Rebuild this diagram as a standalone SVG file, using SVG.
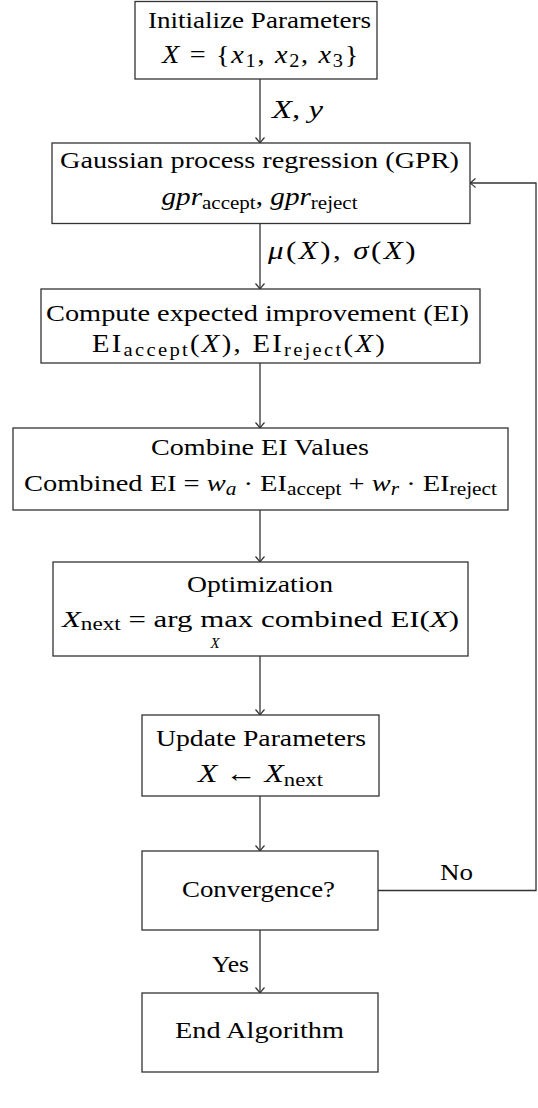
<svg xmlns="http://www.w3.org/2000/svg" width="538" height="1108" viewBox="0 0 538 1108">
<style>
.box{fill:#fff;stroke:#333;stroke-width:1.3}
.t{font-family:"Liberation Serif","Times New Roman",serif;font-size:24px;fill:#000;text-anchor:middle}
.m{font-size:25px}
.it{font-style:italic}
.sub{font-size:18px}
.edge{fill:none;stroke:#333;stroke-width:1.3}
</style>
<defs>
<marker id="arr" markerUnits="userSpaceOnUse" markerWidth="12" markerHeight="12" refX="0" refY="0" viewBox="-7 -6 8 12" orient="auto">
<path d="M-5.5,-4.5 Q-1.5,-1 0,0 Q-1.5,1 -5.5,4.5" fill="none" stroke="#333" stroke-width="1.2"/>
</marker>
</defs>
<g id="connectors">
<line class="edge" x1="260" y1="79" x2="260" y2="143" marker-end="url(#arr)"/>
<line class="edge" x1="260" y1="223.5" x2="260" y2="289" marker-end="url(#arr)"/>
<line class="edge" x1="260" y1="363" x2="260" y2="428" marker-end="url(#arr)"/>
<line class="edge" x1="260" y1="510" x2="260" y2="562" marker-end="url(#arr)"/>
<line class="edge" x1="260" y1="656" x2="260" y2="715" marker-end="url(#arr)"/>
<line class="edge" x1="260" y1="796" x2="260" y2="851" marker-end="url(#arr)"/>
<line class="edge" x1="260" y1="930" x2="260" y2="993" marker-end="url(#arr)"/>
<polyline class="edge" points="378,890.5 536,890.5 536,183 470,183" marker-end="url(#arr)"/>
<text class="t m it" x="297.5" y="118" textLength="51" lengthAdjust="spacingAndGlyphs">X,  y</text>
<text class="t m" x="343" y="259" textLength="150" lengthAdjust="spacingAndGlyphs" style="letter-spacing:2px"><tspan class="it">μ</tspan>(<tspan class="it">X</tspan>),  <tspan class="it">σ</tspan>(<tspan class="it">X</tspan>)</text>
<text class="t" x="456.5" y="880" textLength="33" lengthAdjust="spacingAndGlyphs">No</text>
<text class="t" x="230.5" y="972" textLength="37" lengthAdjust="spacingAndGlyphs">Yes</text>
</g>
<g id="n1">
<rect class="box" x="135" y="1.5" width="242" height="77.5"/>
<text class="t" x="259.5" y="28" textLength="223" lengthAdjust="spacingAndGlyphs">Initialize Parameters</text>
<text class="t m" x="261" y="63" textLength="198" lengthAdjust="spacingAndGlyphs" style="letter-spacing:1.5px"><tspan class="it">X</tspan> = {<tspan class="it">x</tspan><tspan class="sub" dy="4">1</tspan><tspan dy="-4">, </tspan><tspan class="it">x</tspan><tspan class="sub" dy="4">2</tspan><tspan dy="-4">, </tspan><tspan class="it">x</tspan><tspan class="sub" dy="4">3</tspan><tspan dy="-4">}</tspan></text>
</g>
<g id="n2">
<rect class="box" x="52" y="143" width="418" height="80.5"/>
<text class="t" x="259.5" y="168" textLength="399" lengthAdjust="spacingAndGlyphs">Gaussian process regression (GPR)</text>
<text class="t m" x="259.5" y="205" textLength="196" lengthAdjust="spacingAndGlyphs"><tspan class="it">gpr</tspan><tspan class="sub" dy="4">accept</tspan><tspan dy="-4">,  </tspan><tspan class="it">gpr</tspan><tspan class="sub" dy="4">reject</tspan></text>
</g>
<g id="n3">
<rect class="box" x="41" y="289" width="439" height="74"/>
<text class="t" x="257.5" y="321" textLength="423" lengthAdjust="spacingAndGlyphs">Compute expected improvement (EI)</text>
<text class="t m" x="239.5" y="352" textLength="295" lengthAdjust="spacingAndGlyphs" style="letter-spacing:2px">EI<tspan class="sub" dy="4">accept</tspan><tspan dy="-4">(</tspan><tspan class="it">X</tspan>), EI<tspan class="sub" dy="4">reject</tspan><tspan dy="-4">(</tspan><tspan class="it">X</tspan>)</text>
</g>
<g id="n4">
<rect class="box" x="13" y="428" width="495" height="82"/>
<text class="t" x="260" y="455" textLength="218" lengthAdjust="spacingAndGlyphs">Combine EI Values</text>
<text class="t" x="260.5" y="491" textLength="473" lengthAdjust="spacingAndGlyphs">Combined EI = <tspan class="it">w</tspan><tspan class="sub it" dy="4">a</tspan><tspan dy="-4"> · EI</tspan><tspan class="sub" dy="4">accept</tspan><tspan dy="-4"> + </tspan><tspan class="it">w</tspan><tspan class="sub it" dy="4">r</tspan><tspan dy="-4"> · EI</tspan><tspan class="sub" dy="4">reject</tspan></text>
</g>
<g id="n5">
<rect class="box" x="53" y="562" width="415" height="94"/>
<text class="t" x="260" y="592" textLength="146" lengthAdjust="spacingAndGlyphs">Optimization</text>
<text class="t" x="260.5" y="627" textLength="397" lengthAdjust="spacingAndGlyphs"><tspan class="it">X</tspan><tspan class="sub" dy="3">next</tspan><tspan dy="-3"> = arg max  combined EI(</tspan><tspan class="it">X</tspan>)</text>
<text class="t it" x="215" y="647.5" style="font-size:15px">X</text>
</g>
<g id="n6">
<rect class="box" x="142" y="715" width="237" height="81"/>
<text class="t" x="261" y="746" textLength="210" lengthAdjust="spacingAndGlyphs">Update Parameters</text>
<text class="t m" x="260.5" y="782" textLength="125" lengthAdjust="spacingAndGlyphs"><tspan class="it">X</tspan> ← <tspan class="it">X</tspan><tspan class="sub" dy="4">next</tspan></text>
</g>
<g id="n7">
<rect class="box" x="142" y="851" width="236" height="79"/>
<text class="t" x="258.5" y="897" textLength="153" lengthAdjust="spacingAndGlyphs">Convergence?</text>
</g>
<g id="n8">
<rect class="box" x="142" y="993" width="236" height="79"/>
<text class="t" x="259.5" y="1038" textLength="169" lengthAdjust="spacingAndGlyphs">End Algorithm</text>
</g>
</svg>
